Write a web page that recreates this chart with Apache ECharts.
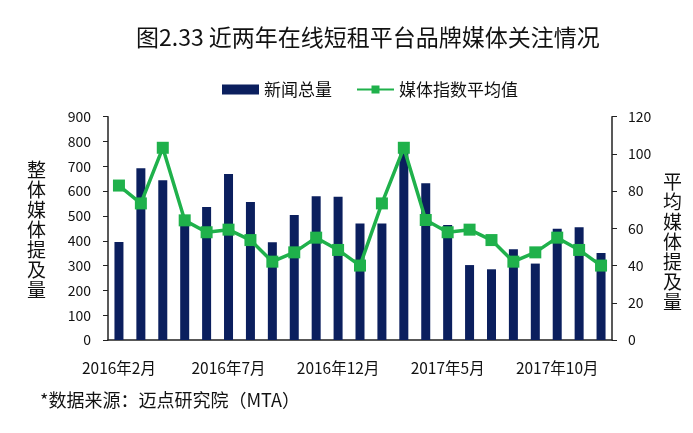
<!DOCTYPE html>
<html><head><meta charset="utf-8">
<script src="https://cdn.jsdelivr.net/npm/echarts@6/dist/echarts.min.js"></script>
<style>html,body{margin:0;padding:0;background:#fff}#c{width:693px;height:433px}</style>
</head><body><div id="c"></div>
<script>
const categories = ['2016年2月','2016年3月','2016年4月','2016年5月','2016年6月','2016年7月','2016年8月','2016年9月','2016年10月','2016年11月','2016年12月','2017年1月','2017年2月','2017年3月','2017年4月','2017年5月','2017年6月','2017年7月','2017年8月','2017年9月','2017年10月','2017年11月','2017年12月'];
const newsTotal = [395,692,644,470,536,669,556,394,504,579,577,470,470,760,632,464,302,285,366,308,448,454,351];
const mediaIndexAvg = [83,73.4,103.3,64.3,57.9,59.3,53.7,42.1,47.1,55,48.4,40,73.4,103.3,64.5,57.9,59.3,53.7,42.1,47.1,55,48.4,40];
const leftTicks = {min:0,max:900,interval:100};
const rightTicks = {min:0,max:120,interval:20};

const FONT = '"Noto Sans CJK SC","Noto Sans",sans-serif';
const chart = echarts.init(document.getElementById('c'));
chart.setOption({
  animation:false,
  textStyle:{fontFamily:FONT},
  title:{text:'图2.33 近两年在线短租平台品牌媒体关注情况',left:131,top:21,
    textStyle:{fontFamily:FONT,fontSize:23,fontWeight:'normal',color:'#111'}},
  legend:{top:76,left:217,itemGap:24,itemWidth:37,itemHeight:10,
    textStyle:{fontFamily:FONT,fontSize:17,color:'#111'},
    data:[{name:'新闻总量',icon:'rect'},{name:'媒体指数平均值'}]},
  grid:{left:108,right:81,top:116.7,bottom:93},
  xAxis:{type:'category',data:categories,boundaryGap:true,
    axisLine:{lineStyle:{color:'#222',width:1.5}},
    axisTick:{interval:4,length:5,lineStyle:{color:'#222'}},
    axisLabel:{interval:4,fontSize:15.5,color:'#111',margin:20,fontFamily:FONT}},
  yAxis:[
    {type:'value',min:leftTicks.min,max:leftTicks.max,interval:leftTicks.interval,
      splitLine:{show:false},axisLine:{show:true,lineStyle:{color:'#222',width:1.5}},
      axisTick:{show:true,length:5,lineStyle:{color:'#222'}},
      axisLabel:{fontSize:14,color:'#111',margin:17,fontFamily:FONT}},
    {type:'value',min:rightTicks.min,max:rightTicks.max,interval:rightTicks.interval,
      splitLine:{show:false},axisLine:{show:true,lineStyle:{color:'#222',width:1.5}},
      axisTick:{show:true,length:5,lineStyle:{color:'#222'}},
      axisLabel:{fontSize:14,color:'#111',margin:16,fontFamily:FONT}}
  ],
  series:[
    {name:'新闻总量',type:'bar',data:newsTotal,barWidth:9,itemStyle:{color:'#0b1f5e'}},
    {name:'媒体指数平均值',type:'line',yAxisIndex:1,data:mediaIndexAvg,
      symbol:'rect',symbolSize:12,lineStyle:{color:'#1fb14b',width:3.5},
      itemStyle:{color:'#1fb14b'}}
  ],
  graphic:[
    {type:'text',left:27,top:160,style:{text:'整\n体\n媒\n体\n提\n及\n量',font:'19px '+FONT,lineHeight:20,fill:'#111'}},
    {type:'text',left:663,top:172,style:{text:'平\n均\n媒\n体\n提\n及\n量',font:'19px '+FONT,lineHeight:20,fill:'#111'}},
    {type:'text',left:40,top:391,style:{text:'*数据来源：迈点研究院（MTA）',font:'18px '+FONT,fill:'#111'}}
  ]
});
</script></body></html>
